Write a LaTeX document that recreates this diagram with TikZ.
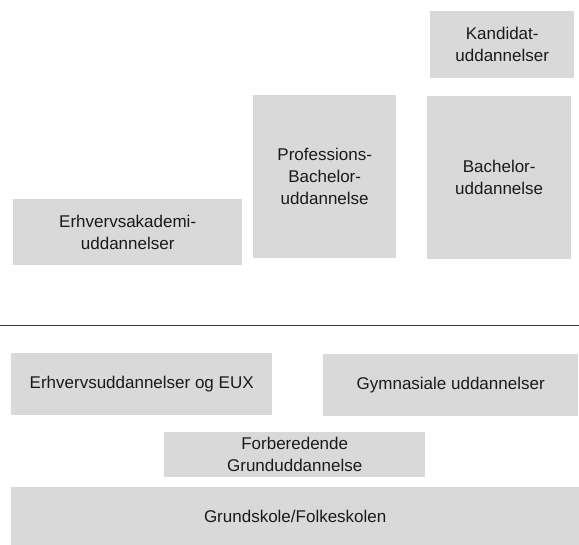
\documentclass[tikz,border=0pt]{standalone}
\usepackage{fontspec}
\setmainfont{Liberation Sans}
\definecolor{boxfill}{HTML}{D9D9D9}
\definecolor{txt}{HTML}{1A1A1A}
\definecolor{rule}{HTML}{3A3A3A}
\begin{document}
\begin{tikzpicture}[x=1pt,y=-1pt,
  edu/.style={fill=boxfill, draw=none, inner sep=0pt, align=center, text=txt,
    font=\fontsize{17}{22}\selectfont, anchor=north west},
]
\useasboundingbox (0,0) rectangle (579,545);
\node[edu, minimum width=144pt, minimum height=67pt] (kand) at (430,11) {Kandidat-\\uddannelser};
\node[edu, minimum width=143pt, minimum height=163pt] (prof) at (253,95) {Professions-\\Bachelor-\\uddannelse};
\node[edu, minimum width=144pt, minimum height=163pt] (bach) at (427,96) {Bachelor-\\uddannelse};
\node[edu, minimum width=229pt, minimum height=66pt] (akad) at (13,199) {Erhvervsakademi-\\uddannelser};
\coordinate (l1) at (0,326);
\coordinate (l2) at (579,326);
\draw[rule, line width=1pt] (l1) -- (l2);
\node[edu, minimum width=261pt, minimum height=62pt] (eux) at (11,353) {Erhvervsuddannelser og EUX};
\node[edu, minimum width=255pt, minimum height=62pt] (gym) at (323,354) {Gymnasiale uddannelser};
\node[edu, minimum width=261pt, minimum height=45pt] (fgu) at (164,432) {Forberedende\\Grunduddannelse};
\node[edu, minimum width=568pt, minimum height=58pt] (grund) at (11,487) {Grundskole/Folkeskolen};
\end{tikzpicture}
\end{document}
